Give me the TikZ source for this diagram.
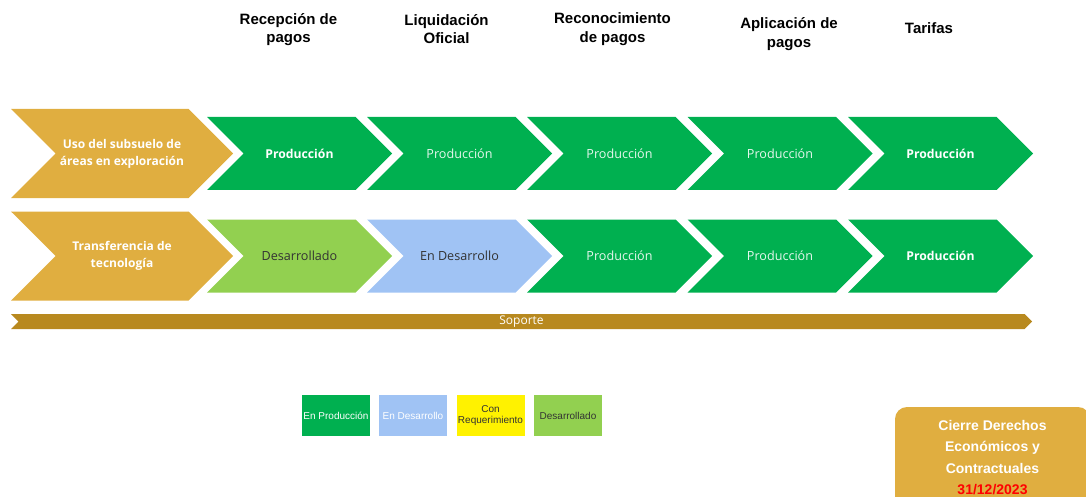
\documentclass[tikz,border=0pt]{standalone}
\usepackage{fontspec}
\setmainfont{Open Sans}
\newfontfamily\arialfont{Liberation Sans}
\usepackage{xcolor}
\usetikzlibrary{shapes.symbols, positioning}

\definecolor{oro}{HTML}{E0AE40}
\definecolor{verde}{HTML}{00B050}
\definecolor{verdeclaro}{HTML}{92D050}
\definecolor{azulclaro}{HTML}{A0C3F4}
\definecolor{soportecolor}{HTML}{B8891F}
\definecolor{gris}{HTML}{333333}

\begin{document}
\begin{tikzpicture}[
    x=1pt, y=-1pt,
    flecha/.style={signal, signal from=west, signal to=east, signal pointer angle=90, inner sep=0pt, minimum width=185pt, minimum height=73pt, fill=#1, align=center, text=white!90!verde, font=\fontsize{12.6}{15}\selectfont},
    tema/.style={flecha=oro, minimum width=222pt, minimum height=89pt, text=white, font=\bfseries\fontsize{12}{17}\selectfont},
    fuerte/.style={text=white, font=\bfseries\fontsize{12.2}{15}\selectfont},
    fase/.style={align=center, font=\arialfont\bfseries\fontsize{15}{18.5}\selectfont},
    leyenda/.style={rectangle, fill=#1, minimum width=68pt, minimum height=41pt, inner sep=0pt, align=center, font=\arialfont\fontsize{10}{11}\selectfont}
]
\useasboundingbox (0,0) rectangle (1086,497);

% Phase headers
\node[fase] (recepcion) at (288.5,29.5) {Recepción de\\pagos};
\node[fase] (liquidacion) at (446.5,29) {Liquidación\\Oficial};
\node[fase] (reconocimiento) at (612.5,29) {Reconocimiento\\de pagos};
\node[fase] (aplicacion) at (789,34) {Aplicación de\\pagos};
\node[fase] (tarifas) at (929,28) {Tarifas};

% Row 1
\node[tema] (subsuelo) at (122,153.5) {Uso del subsuelo de\\áreas en exploración};
\node[flecha=verde, fuerte] (s1) at (299.5,153.5) {Producción};
\node[flecha=verde] (s2) at (459.5,153.5) {Producción};
\node[flecha=verde] (s3) at (619.5,153.5) {Producción};
\node[flecha=verde] (s4) at (780,153.5) {Producción};
\node[flecha=verde, fuerte] (s5) at (940.5,153.5) {Producción};

% Row 2
\node[tema] (transferencia) at (122,256) {Transferencia de\\tecnología};
\node[flecha=verdeclaro, text=gris] (t1) at (299.5,256) {Desarrollado};
\node[flecha=azulclaro, text=gris] (t2) at (459.5,256) {En Desarrollo};
\node[flecha=verde] (t3) at (619.5,256) {Producción};
\node[flecha=verde] (t4) at (780,256) {Producción};
\node[flecha=verde, fuerte] (t5) at (940.5,256) {Producción};

% Support bar
\node[flecha=soportecolor, minimum width=1021pt, minimum height=15pt, text=white, font=\fontsize{12}{14}\selectfont] (soporte) at (521.5,321.5) {Soporte};

% Legend
\node[leyenda=verde, text=white] (lprod) at (336,415.5) {En Producción};
\node[leyenda=azulclaro, text=white] (ldes) at (413,415.5) {En Desarrollo};
\node[leyenda=yellow, text=gris] (lreq) at (490.5,415.5) {Con\\Requerimiento};
\node[leyenda=verdeclaro, text=gris] (ldesarrollado) at (568,415.5) {Desarrollado};

% Closing box
\node[rectangle, rounded corners=12pt, fill=oro, minimum width=195pt, minimum height=101pt, inner sep=0pt, align=center, text=white, font=\arialfont\bfseries\fontsize{14}{21.5}\selectfont] (cierre) at (992.5,457.5) {Cierre Derechos\\Económicos y\\Contractuales\\\textcolor{red}{31/12/2023}};

\end{tikzpicture}
\end{document}
